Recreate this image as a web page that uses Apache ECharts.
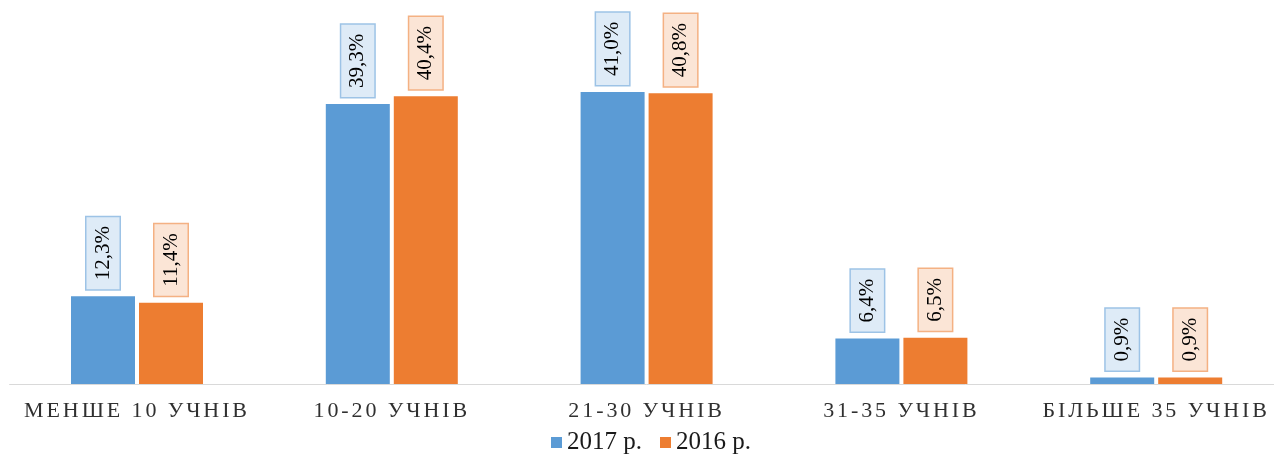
<!DOCTYPE html>
<html>
<head>
<meta charset="utf-8">
<script src="https://cdn.jsdelivr.net/npm/echarts@6/dist/echarts.min.js"></script>
<style>
  html, body { margin: 0; padding: 0; background: #fff; overflow: hidden; }
  #chart { width: 1284px; height: 454px; }
</style>
</head>
<body>
<div id="chart"></div>
<script>
const categories = ['МЕНШЕ 10 УЧНІВ', '10-20 УЧНІВ', '21-30 УЧНІВ', '31-35 УЧНІВ', 'БІЛЬШЕ 35 УЧНІВ'];
const seriesNames = ['2017 р.', '2016 р.'];
const values2017 = [12.3, 39.3, 41.0, 6.4, 0.9];
const values2016 = [11.4, 40.4, 40.8, 6.5, 0.9];

const AXIS_COLOR = '#303030';
// wide letter spacing only for the category labels (drawn in AXIS_COLOR)
const origFillText = CanvasRenderingContext2D.prototype.fillText;
CanvasRenderingContext2D.prototype.fillText = function () {
  const want = this.fillStyle === AXIS_COLOR ? '2.9px' : '0px';
  if (this.letterSpacing !== want) {
    this.letterSpacing = want;
    const f = this.font;
    this.font = '10px serif';
    this.font = f;
  }
  return origFillText.apply(this, arguments);
};

const FONT = 'Liberation Serif';
const fmt = p => p.value.toFixed(1).replace('.', ',') + '%';

function labelCfg(fill, border) {
  return {
    show: true,
    position: 'top',
    distance: 7,
    rotate: 90,
    align: 'left',
    verticalAlign: 'middle',
    formatter: fmt,
    fontFamily: FONT,
    fontSize: 21,
    color: '#000',
    backgroundColor: fill,
    borderColor: border,
    borderWidth: 1.5,
    padding: [6, 9, 6, 9]
  };
}

const chart = echarts.init(document.getElementById('chart'), null, { renderer: 'canvas' });
chart.setOption({
  animation: false,
  backgroundColor: '#fff',
  textStyle: { fontFamily: FONT },
  grid: { left: 9.6, top: 27.8, width: 1274, height: 356.2, containLabel: false },
  legend: {
    data: seriesNames,
    left: 551,
    top: 430,
    padding: 0,
    itemWidth: 11,
    itemHeight: 11,
    itemGap: 18,
    icon: 'rect',
    textStyle: { fontFamily: FONT, fontSize: 25, color: '#1a1a1a' }
  },
  xAxis: {
    type: 'category',
    data: categories,
    axisLine: { show: true, lineStyle: { color: '#d9d9d9', width: 1 } },
    axisTick: { show: false },
    axisLabel: { fontFamily: FONT, fontSize: 22, color: AXIS_COLOR, margin: 16, interval: 0 }
  },
  yAxis: {
    type: 'value',
    min: 0,
    max: 50,
    show: false,
    splitLine: { show: false }
  },
  series: [
    {
      name: seriesNames[0],
      type: 'bar',
      data: values2017,
      barWidth: 64,
      barGap: '6.25%',
      itemStyle: { color: '#5b9bd5' },
      label: labelCfg('#deebf7', '#9dc3e6')
    },
    {
      name: seriesNames[1],
      type: 'bar',
      data: values2016,
      barWidth: 64,
      barGap: '6.25%',
      itemStyle: { color: '#ed7d31' },
      label: labelCfg('#fbe5d6', '#f4b183')
    }
  ]
});
</script>
</body>
</html>
